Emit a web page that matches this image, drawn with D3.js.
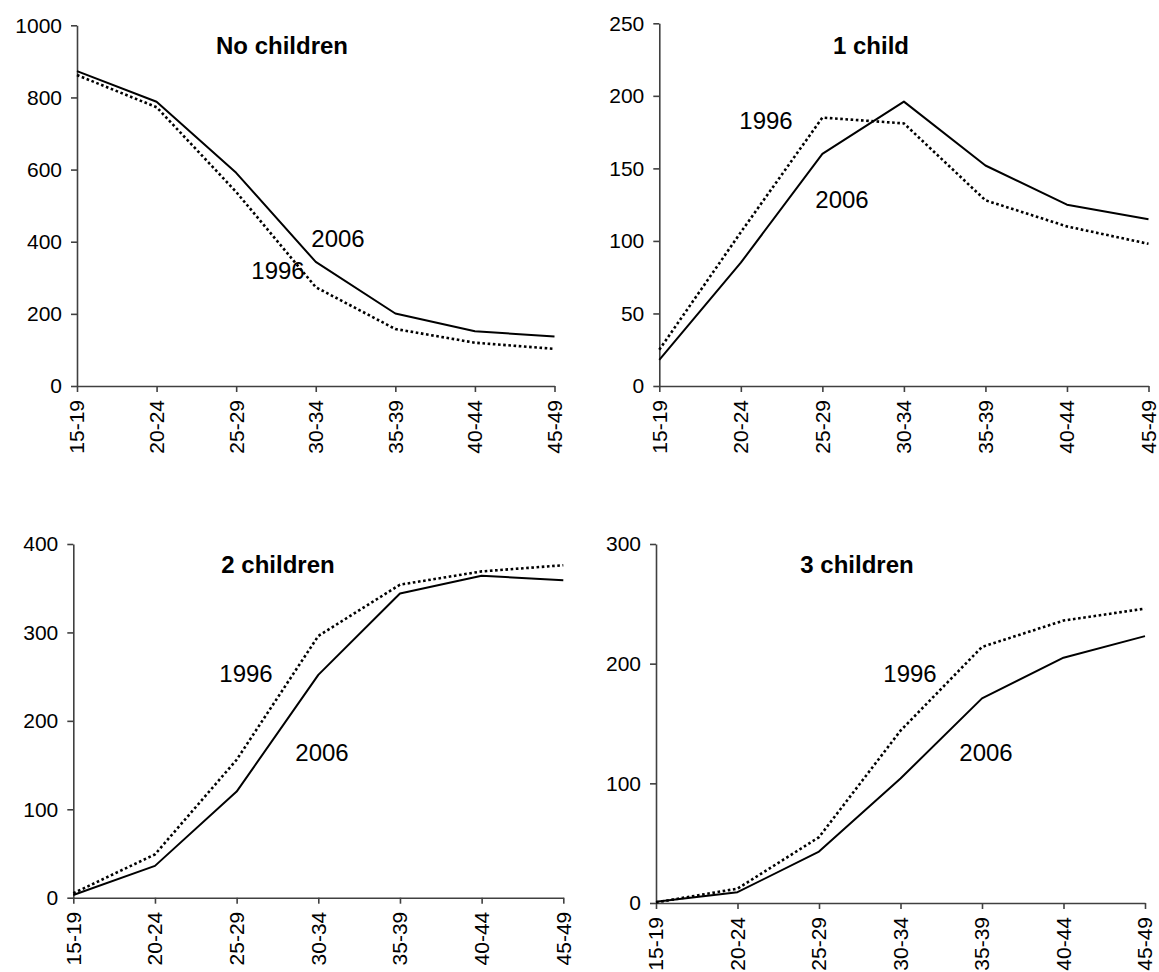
<!DOCTYPE html>
<html>
<head>
<meta charset="utf-8">
<script src="https://cdn.jsdelivr.net/npm/d3@7"></script>
<style>
  html, body { margin: 0; padding: 0; background: #fff; }
  svg { display: block; font-family: "Liberation Sans", Arial, sans-serif; }
</style>
</head>
<body>
<svg id="chart" width="1159" height="972"></svg>
<script>
// ---- Data ----
const ageGroups = ["15-19", "20-24", "25-29", "30-34", "35-39", "40-44", "45-49"];

const noChildren1996 = [862, 773, 538, 274, 158, 120, 103];
const noChildren2006 = [873, 788, 591, 344, 201, 152, 137];

const oneChild1996 = [25, 106, 185, 181, 128, 110, 98];
const oneChild2006 = [18, 85, 160, 196, 152, 125, 115];

const twoChildren1996 = [5, 49, 156, 296, 354, 369, 376];
const twoChildren2006 = [3, 36, 120, 252, 344, 364, 359];

const threeChildren1996 = [0.5, 12, 55, 144, 214, 236, 246];
const threeChildren2006 = [1, 9, 43, 104, 171, 205, 223];

const panelTitles = ["No children", "1 child", "2 children", "3 children"];
const yTicksNoChildren = [0, 200, 400, 600, 800, 1000];
const yTicksOneChild = [0, 50, 100, 150, 200, 250];
const yTicksTwoChildren = [0, 100, 200, 300, 400];
const yTicksThreeChildren = [0, 100, 200, 300];
const seriesLabels = ["1996", "2006"];

// ---- Layout (positions/styles) ----
const panels = [
  { title: panelTitles[0], s1996: noChildren1996, s2006: noChildren2006, ticks: yTicksNoChildren,
    x0: 77, x1: 554.5, yBottom: 386, yTop: 25.3, titleX: 282, titleY: 54,
    lab1996: [278, 279], lab2006: [338, 247] },
  { title: panelTitles[1], s1996: oneChild1996, s2006: oneChild2006, ticks: yTicksOneChild,
    x0: 659.3, x1: 1148.5, yBottom: 386, yTop: 23.3, titleX: 871, titleY: 54,
    lab1996: [766, 129], lab2006: [842, 208] },
  { title: panelTitles[2], s1996: twoChildren1996, s2006: twoChildren2006, ticks: yTicksTwoChildren,
    x0: 73.3, x1: 563.3, yBottom: 897.7, yTop: 544, titleX: 278, titleY: 573,
    lab1996: [246, 682], lab2006: [322, 761] },
  { title: panelTitles[3], s1996: threeChildren1996, s2006: threeChildren2006, ticks: yTicksThreeChildren,
    x0: 656, x1: 1145, yBottom: 903, yTop: 544, titleX: 857, titleY: 573,
    lab1996: [910, 682], lab2006: [986, 761] }
];

const svg = d3.select("#chart");
const axisColor = "#404040";

panels.forEach(p => {
  const g = svg.append("g");
  const x = d3.scalePoint().domain(ageGroups).range([p.x0, p.x1]);
  const maxV = p.ticks[p.ticks.length - 1];
  const y = d3.scaleLinear().domain([0, maxV]).range([p.yBottom, p.yTop]);

  // y axis
  const ya = g.append("g")
    .attr("transform", `translate(${p.x0},0)`)
    .call(d3.axisLeft(y).tickValues(p.ticks).tickSize(6).tickSizeOuter(0).tickPadding(9).tickFormat(d3.format("d")));
  ya.select(".domain").attr("stroke", axisColor).attr("stroke-width", 1.6);
  ya.selectAll(".tick line").attr("stroke", axisColor).attr("stroke-width", 1.6);
  ya.selectAll(".tick text").attr("fill", "#000").style("font-size", "21px")
    .style("font-family", "'Liberation Sans', Arial, sans-serif");

  // x axis
  const xa = g.append("g")
    .attr("transform", `translate(0,${p.yBottom})`)
    .call(d3.axisBottom(x).tickSize(6).tickSizeOuter(0).tickPadding(9));
  xa.select(".domain").attr("stroke", axisColor).attr("stroke-width", 1.6);
  xa.selectAll(".tick line").attr("stroke", axisColor).attr("stroke-width", 1.6);
  xa.selectAll(".tick text")
    .attr("fill", "#000")
    .style("font-size", "21px")
    .style("font-family", "'Liberation Sans', Arial, sans-serif")
    .attr("text-anchor", "end")
    .attr("transform", "rotate(-90)")
    .attr("x", -14)
    .attr("y", 0)
    .attr("dy", "0.33em");

  const line = d3.line().x((d, i) => x(ageGroups[i])).y(d => y(d));

  // 1996 dotted
  g.append("path").datum(p.s1996)
    .attr("d", line)
    .attr("fill", "none")
    .attr("stroke", "#000")
    .attr("stroke-width", 2.6)
    .attr("stroke-dasharray", "2.6,2.6");

  // 2006 solid
  g.append("path").datum(p.s2006)
    .attr("d", line)
    .attr("fill", "none")
    .attr("stroke", "#000")
    .attr("stroke-width", 2)
    .attr("stroke-linejoin", "round");

  // title
  g.append("text")
    .attr("x", p.titleX).attr("y", p.titleY)
    .attr("text-anchor", "middle")
    .style("font-size", "24px").style("font-weight", "bold")
    .text(p.title);

  // series labels
  g.append("text").attr("x", p.lab1996[0]).attr("y", p.lab1996[1])
    .attr("text-anchor", "middle").style("font-size", "24px").text(seriesLabels[0]);
  g.append("text").attr("x", p.lab2006[0]).attr("y", p.lab2006[1])
    .attr("text-anchor", "middle").style("font-size", "24px").text(seriesLabels[1]);
});
</script>
</body>
</html>
